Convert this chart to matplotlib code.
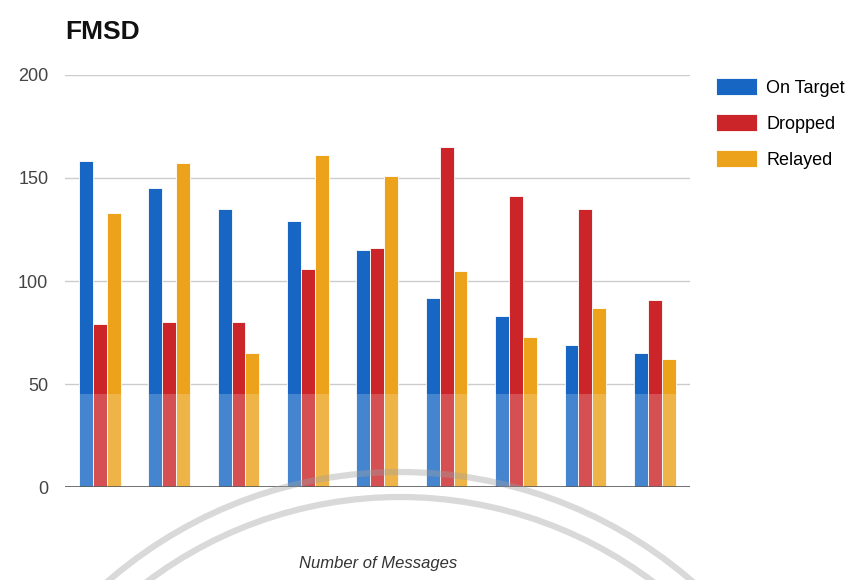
import numpy as np
import matplotlib
matplotlib.use("Agg")
import matplotlib.pyplot as plt
from matplotlib.patches import Arc, Rectangle

# values (9 groups, no tick labels shown)
groups = np.arange(9)
on_target = [158, 145, 135, 129, 115, 92, 83, 69, 65]
dropped = [79, 80, 80, 106, 116, 165, 141, 135, 91]
relayed = [133, 157, 65, 161, 151, 105, 73, 87, 62]
series_names = ["On Target", "Dropped", "Relayed"]
colors = ["#1766c4", "#cb2529", "#eca21b"]

plt.rcParams['font.family'] = ['Liberation Sans', 'DejaVu Sans']

fig = plt.figure(figsize=(8.59, 5.8), dpi=100)
ax = fig.add_axes([0.0757, 0.160, 0.727, 0.711])

w = 0.2
for k, (vals, name, c) in enumerate(zip([on_target, dropped, relayed], series_names, colors)):
    ax.bar(groups + (k - 1) * w, vals, w, color=c, label=name,
           edgecolor='white', linewidth=0.6, zorder=3)

ax.set_xlim(-0.5, 8.5)
ax.set_ylim(0, 200)
ax.set_yticks([0, 50, 100, 150, 200])
ax.set_xticks([])
ax.grid(axis='y', color='#cccccc', linewidth=1, zorder=0)
ax.axhline(0, color='#333333', linewidth=1.2, zorder=4)
for s in ax.spines.values():
    s.set_visible(False)
ax.tick_params(axis='y', length=0, labelsize=13, labelcolor='#444444', pad=12)

fig.text(0.0757, 0.945, "FMSD", fontsize=19, fontweight='bold', color='#111111',
         va='center', ha='left')
fig.text(0.44, 0.016, "Number of Messages", fontsize=12, style='italic',
         color='#333333', ha='center', va='bottom')

fig.legend(loc='upper left', bbox_to_anchor=(0.825, 0.878), frameon=False,
           fontsize=13, handlelength=2.3, handleheight=1.1, labelspacing=0.95,
           handletextpad=0.5, borderaxespad=0)

# faint watermark seen in the scan: light wash over the lower bars and two grey rings
ax.add_patch(Rectangle((-0.5, 0), 9, 45, facecolor='white', alpha=0.2,
                       edgecolor='none', zorder=5))
cy = (580 - 917) / 580
for r in (445, 420):
    fig.add_artist(Arc((400 / 859, cy), 2 * r / 859, 2 * r / 580,
                       theta1=15, theta2=165, transform=fig.transFigure,
                       color='#a0a0a0', alpha=0.4, linewidth=4.5, zorder=6))

fig.savefig("out.png", dpi=100)
